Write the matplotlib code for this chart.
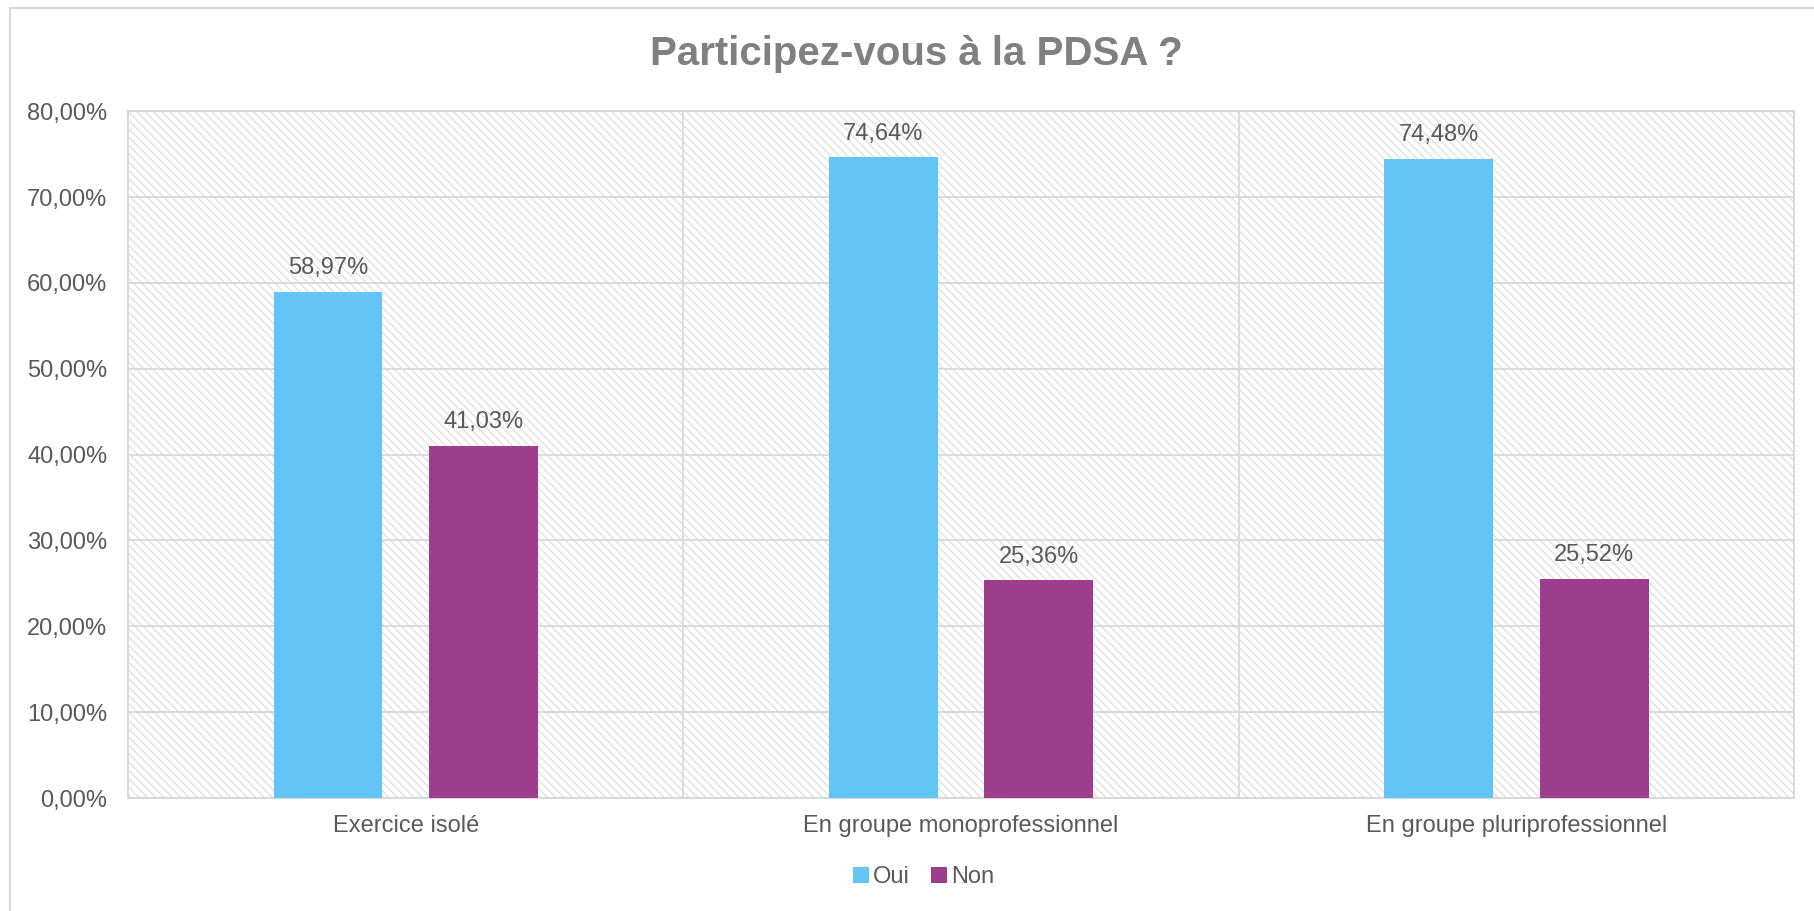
import matplotlib.pyplot as plt
import matplotlib.patches as mpatches
import numpy as np

plt.rcParams['font.family'] = ['Liberation Sans', 'DejaVu Sans']
plt.rcParams['hatch.linewidth'] = 0.8

categories = ['Exercice isolé', 'En groupe monoprofessionnel', 'En groupe pluriprofessionnel']
oui = [58.97, 74.64, 74.48]
non = [41.03, 25.36, 25.52]
series_names = ['Oui', 'Non']
yticks = [0, 10, 20, 30, 40, 50, 60, 70, 80]

c_oui = '#63c5f5'
c_non = '#9e3d8e'
text_col = '#595959'
grid_col = '#d9d9d9'


def pct(v):
    return f'{v:.2f}'.replace('.', ',') + '%'


fig = plt.figure(figsize=(18.14, 9.11), dpi=100)
ax = fig.add_axes([0.0706, 0.124, 0.9184, 0.754])

# hatched plot background
bg = mpatches.Rectangle((0, 0), 1, 1, transform=ax.transAxes, facecolor='white',
                        edgecolor='#dcdcdc', hatch='\\\\\\\\', linewidth=0, zorder=0)
ax.add_patch(bg)
ax.set_facecolor('white')

x = np.arange(len(categories))
w = 0.196
off = 0.14
b1 = ax.bar(x - off, oui, w, color=c_oui, label=series_names[0], zorder=3)
b2 = ax.bar(x + off, non, w, color=c_non, label=series_names[1], zorder=3)

for bars, vals in ((b1, oui), (b2, non)):
    for r, v in zip(bars, vals):
        ax.annotate(pct(v), (r.get_x() + r.get_width() / 2, v), xytext=(0, 9),
                    textcoords='offset points', ha='center', va='bottom',
                    fontsize=17, color=text_col, zorder=4)

ax.set_xlim(-0.5, len(categories) - 0.5)
ax.set_ylim(0, 80)
ax.set_yticks(yticks)
ax.set_yticklabels([pct(v) for v in yticks])
ax.set_xticks(x)
ax.set_xticklabels(categories)
ax.tick_params(axis='both', length=0, labelsize=17, labelcolor=text_col)
ax.tick_params(axis='y', pad=15)
ax.tick_params(axis='x', pad=12)

for v in yticks:
    ax.axhline(v, color=grid_col, lw=1.3, zorder=1)
for xv in x[:-1] + 0.5:
    ax.axvline(xv, color=grid_col, lw=1.3, zorder=1)
for s in ax.spines.values():
    s.set_color(grid_col)
    s.set_linewidth(1.5)

fig.text(0.505, 0.941, 'Participez-vous à la PDSA ?', ha='center', va='center',
         fontsize=29, fontweight='bold', color='#808080')

fig.legend(loc='center', bbox_to_anchor=(0.509, 0.037), ncol=2, frameon=False,
           fontsize=17, labelcolor=text_col, handlelength=0.7, handleheight=0.7,
           handletextpad=0.15, columnspacing=0.9)

# outer chart frame (left and top edges visible)
fig.add_artist(plt.Line2D([0.0055, 0.0055], [0, 0.991], color=grid_col, lw=1.5,
                          transform=fig.transFigure))
fig.add_artist(plt.Line2D([0.0055, 1], [0.991, 0.991], color=grid_col, lw=1.5,
                          transform=fig.transFigure))

fig.savefig('out.png', dpi=100, facecolor='white')
